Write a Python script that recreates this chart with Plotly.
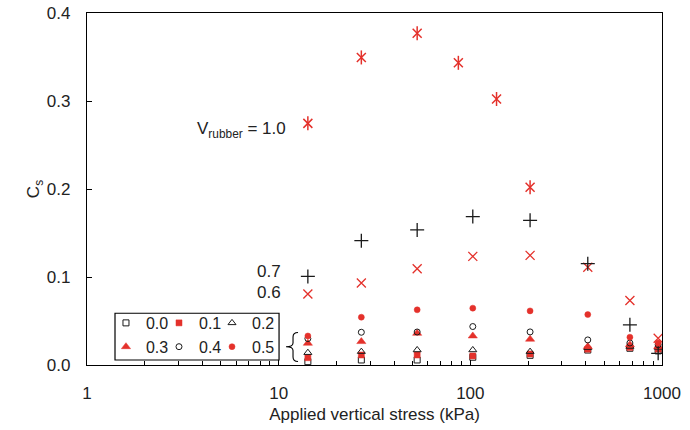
import plotly.graph_objects as go

# Applied vertical stress (kPa) at which each mixture was tested
stress = [14.2, 27, 52.8, 103, 205, 410, 680, 955]
stress_pure = [14.2, 27, 52.8, 86.6, 137, 205]

# Secondary compression index Cs per rubber volume fraction
cs_00 = [0.0038, 0.0057, 0.0057, 0.0088, 0.011, 0.017, 0.019, 0.016]
cs_01 = [0.0083, 0.0114, 0.0114, 0.0103, 0.0125, 0.018, 0.020, 0.018]
cs_02 = [0.014, 0.0152, 0.0171, 0.0171, 0.0152, 0.0197, 0.021, 0.020]
cs_03 = [0.0247, 0.0266, 0.036, 0.033, 0.0293, 0.0209, 0.023, 0.021]
cs_04 = [0.030, 0.0372, 0.0375, 0.0437, 0.0376, 0.0285, 0.025, 0.023]
cs_05 = [0.033, 0.0543, 0.0627, 0.0646, 0.0615, 0.0573, 0.0316, 0.025]
cs_06 = [0.0806, 0.0931, 0.1094, 0.1234, 0.1246, 0.1110, 0.0733, 0.0304]
cs_07 = [0.1006, 0.1413, 0.1535, 0.1687, 0.1644, 0.1151, 0.0456, 0.0133]
cs_10 = [0.2746, 0.3495, 0.3769, 0.3434, 0.3023, 0.2020]

RED = "#e4312b"
BLK = "#1a1a1a"
TXT = "#222"
FONT = "Liberation Sans, Arial, sans-serif"

fig = go.Figure()


def add(name, x, y, symbol, color, size, lw=1.0, legend=None):
    fig.add_trace(go.Scatter(
        x=x, y=y, mode="markers", name=name,
        marker=dict(symbol=symbol, color=color, size=size,
                    line=dict(color=color, width=lw)),
        showlegend=legend is not None,
        legend=legend or "legend",
    ))


# legend is laid out as three columns: (0.0, 0.3), (0.1, 0.4), (0.2, 0.5)
add("0.0", stress, cs_00, "square-open", BLK, 6, 1.0, "legend")
add("0.1", stress, cs_01, "square", RED, 6, 0.5, "legend2")
add("0.2", stress, cs_02, "triangle-up-open", BLK, 7, 1.0, "legend3")
add("0.3", stress, cs_03, "triangle-up", RED, 8, 0.5, "legend")
add("0.4", stress, cs_04, "circle-open", BLK, 6, 1.0, "legend2")
add("0.5", stress, cs_05, "circle", RED, 6, 0.5, "legend3")
add("0.6", stress, cs_06, "x-thin-open", RED, 9, 1.3)
add("0.7", stress, cs_07, "cross-thin-open", BLK, 10, 1.3)
# pure rubber: an x crossed by a vertical stroke
add("1.0", stress_pure, cs_10, "x-thin-open", RED, 9, 1.5)
add("1.0", stress_pure, cs_10, "line-ns-open", RED, 10, 1.5)

axis_common = dict(
    showline=True, linecolor="black", linewidth=1.3, mirror=True,
    ticks="inside", ticklen=5, tickwidth=1, tickcolor="black",
    showgrid=False, zeroline=False, automargin=False,
    tickfont=dict(family=FONT, size=17, color=TXT),
)

fig.update_xaxes(
    type="log", range=[0, 3],
    tickvals=[1, 10, 100, 1000], ticktext=["1", "10", "100", "1000"],
    minor=dict(ticks="inside", ticklen=4, tickcolor="black",
               tickvals=[2, 3, 4, 5, 6, 7, 8, 9,
                         20, 30, 40, 50, 60, 70, 80, 90,
                         200, 300, 400, 500, 600, 700, 800, 900]),
    ticklabelstandoff=12,
    title=dict(text="Applied vertical stress (kPa)", standoff=6,
               font=dict(family=FONT, size=17, color=TXT)),
    **axis_common,
)
fig.update_yaxes(
    range=[0, 0.4], dtick=0.1, tickformat=".1f",
    ticklabelstandoff=12,
    title=dict(text="C<sub>s</sub>", standoff=2,
               font=dict(family=FONT, size=17, color=TXT)),
    **axis_common,
)

legend_common = dict(
    orientation="v", xanchor="left", yanchor="middle", y=0.0853,
    bgcolor="rgba(0,0,0,0)", borderwidth=0,
    font=dict(family=FONT, size=16, color=TXT),
    itemwidth=30, tracegroupgap=0,
)
fig.update_layout(
    width=690, height=430,
    margin=dict(l=87, r=28, t=13, b=65, autoexpand=False),
    paper_bgcolor="white", plot_bgcolor="white",
    legend=dict(x=0.033, **legend_common),
    legend2=dict(x=0.1252, **legend_common),
    legend3=dict(x=0.2174, **legend_common),
    font=dict(family=FONT, size=17, color=TXT),
    shapes=[
        # legend frame
        dict(type="rect", xref="paper", yref="paper",
             x0=0.0487, x1=0.334, y0=0.0142, y1=0.147,
             line=dict(color="black", width=1.2)),
        # brace grouping the low-rubber points
        dict(type="path", xref="paper", yref="paper",
             path=("M 0.367,0.0924 Q 0.3583,0.0924 0.3583,0.0796 "
                   "L 0.3583,0.0626 Q 0.3583,0.052 0.3461,0.052 "
                   "Q 0.3583,0.052 0.3583,0.0412 L 0.3583,0.0227 "
                   "Q 0.3583,0.00995 0.367,0.00995"),
             line=dict(color="black", width=1.1)),
    ],
    annotations=[
        dict(text="V<sub>rubber</sub> = 1.0", xref="paper", yref="paper",
             x=0.3496, y=0.668, xanchor="right", yanchor="middle",
             showarrow=False, font=dict(family=FONT, size=17, color=TXT)),
        dict(text="0.7", xref="paper", yref="paper",
             x=0.341, y=0.267, xanchor="right", yanchor="middle",
             showarrow=False, font=dict(family=FONT, size=17, color=TXT)),
        dict(text="0.6", xref="paper", yref="paper",
             x=0.341, y=0.2047, xanchor="right", yanchor="middle",
             showarrow=False, font=dict(family=FONT, size=17, color=TXT)),
    ],
)

fig.write_html("out.html")
